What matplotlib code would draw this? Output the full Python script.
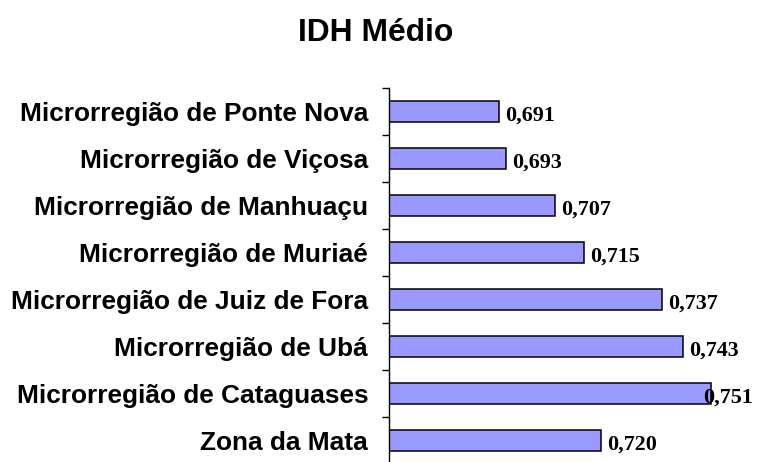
import matplotlib
matplotlib.use('Agg')
import matplotlib.pyplot as plt
import numpy as np

# Data, top to bottom as in the chart
regioes = [
    'Microrregião de Ponte Nova',
    'Microrregião de Viçosa',
    'Microrregião de Manhuaçu',
    'Microrregião de Muriaé',
    'Microrregião de Juiz de Fora',
    'Microrregião de Ubá',
    'Microrregião de Cataguases',
    'Zona da Mata',
]
idh = [0.691, 0.693, 0.707, 0.715, 0.737, 0.743, 0.751, 0.720]
rotulos = ['0,691', '0,693', '0,707', '0,715', '0,737', '0,743', '0,751', '0,720']

W, H = 758, 462
fig = plt.figure(figsize=(W / 100, H / 100), dpi=100)
ax = fig.add_axes([389 / W, -2 / H, 1 - 389 / W, (464 - 88) / H])

y = np.arange(len(regioes))
ax.barh(y, idh, height=0.43, color='#9999ff', edgecolor='black', linewidth=1.1)

ax.set_xlim(0.66, 0.7642)
ax.set_ylim(len(regioes) - 0.5, -0.5)

for s in ['top', 'right', 'bottom']:
    ax.spines[s].set_visible(False)
ax.spines['left'].set_linewidth(1.0)
ax.set_xticks([])

ax.set_yticks(y)
ax.set_yticklabels(regioes, fontfamily='Liberation Sans', fontweight='bold', fontsize=18.9)
ax.tick_params(axis='y', which='major', length=0, pad=15)
ax.set_yticks(np.arange(-0.5, len(regioes), 1.0), minor=True)
ax.tick_params(axis='y', which='minor', length=5, width=1.0, direction='out')

# value labels, pushed back inside the plot area if they would run past it
fig.canvas.draw()
renderer = fig.canvas.get_renderer()
ax_right = ax.get_window_extent(renderer).x1
for yi, v, r in zip(y, idh, rotulos):
    t = ax.annotate(r, xy=(v, yi), xytext=(6, -4), textcoords='offset pixels',
                    ha='left', va='center', fontfamily='Liberation Serif',
                    fontweight='bold', fontsize=15.8)
    bb = t.get_window_extent(renderer)
    if bb.x1 > ax_right - 5:
        t.set_position((6 - (bb.x1 - ax_right + 5), -4))

fig.text(0.496, 1 - 33 / H, 'IDH Médio', ha='center', va='center',
         fontfamily='Liberation Sans', fontweight='bold', fontsize=22.9)

fig.savefig('out.png', dpi=100)
